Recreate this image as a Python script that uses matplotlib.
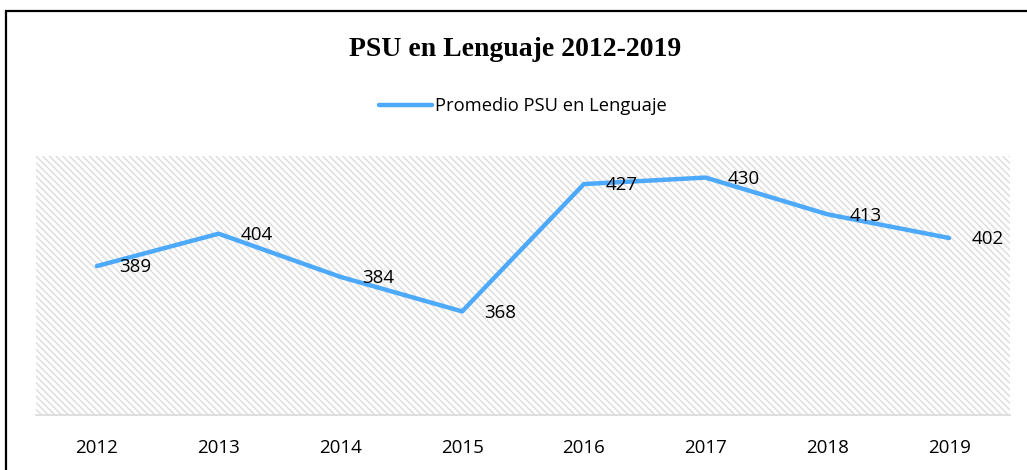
import matplotlib
matplotlib.use("Agg")
import matplotlib.pyplot as plt
from matplotlib.patches import Rectangle

years = ["2012", "2013", "2014", "2015", "2016", "2017", "2018", "2019"]
values = [389, 404, 384, 368, 427, 430, 413, 402]
series_name = "Promedio PSU en Lenguaje"
title = "PSU en Lenguaje 2012-2019"

plt.rcParams['hatch.linewidth'] = 1.1
plt.rcParams['hatch.color'] = '#dedede'

fig = plt.figure(figsize=(10.27, 4.70), dpi=100)
W, H = 1027, 470

# outer border (right and bottom extend past image)
fig.patches.append(Rectangle((6 / W, -0.05), 1.2, 1 - 11 / H + 0.05,
                             transform=fig.transFigure, fill=False,
                             edgecolor='black', linewidth=1.6))

ax = fig.add_axes([36 / W, 1 - 415 / H, (1010 - 36) / W, (415 - 156) / H])
ax.set_facecolor('white')
ax.add_patch(Rectangle((0, 0), 1, 1, transform=ax.transAxes, facecolor='white',
                       hatch='\\' * 5, edgecolor='#dedede', linewidth=0, zorder=0))

x = list(range(len(years)))
line, = ax.plot(x, values, color='#4DA9F9', linewidth=3.2, solid_capstyle='round',
                solid_joinstyle='round', zorder=3, label=series_name)

for xi, v in zip(x, values):
    ax.annotate(str(v), (xi, v), xytext=(16, -1), textcoords='offset points',
                ha='left', va='center', fontsize=13.5, family='Open Sans',
                color='black', zorder=4)

ax.set_xlim(-0.5, len(years) - 0.5)
ax.set_ylim(320, 440)
ax.set_xticks(x)
ax.set_xticklabels(years, fontsize=13.5, family='Open Sans')
ax.set_yticks([])
ax.tick_params(axis='x', length=0, pad=17)
for s in ['top', 'left', 'right']:
    ax.spines[s].set_visible(False)
ax.spines['bottom'].set_color('#d9d9d9')
ax.spines['bottom'].set_linewidth(1.2)

fig.text(515 / W, 1 - 50 / H, title, ha='center', va='center', fontsize=20,
         fontweight='bold', family='Liberation Serif')

leg = fig.legend(handles=[line], loc='center', bbox_to_anchor=(523 / W, 1 - 106 / H),
                 frameon=False, prop={'family': 'Open Sans', 'size': 13.2},
                 handlelength=2.9, handletextpad=0.15)

fig.savefig('out.png', dpi=100)
